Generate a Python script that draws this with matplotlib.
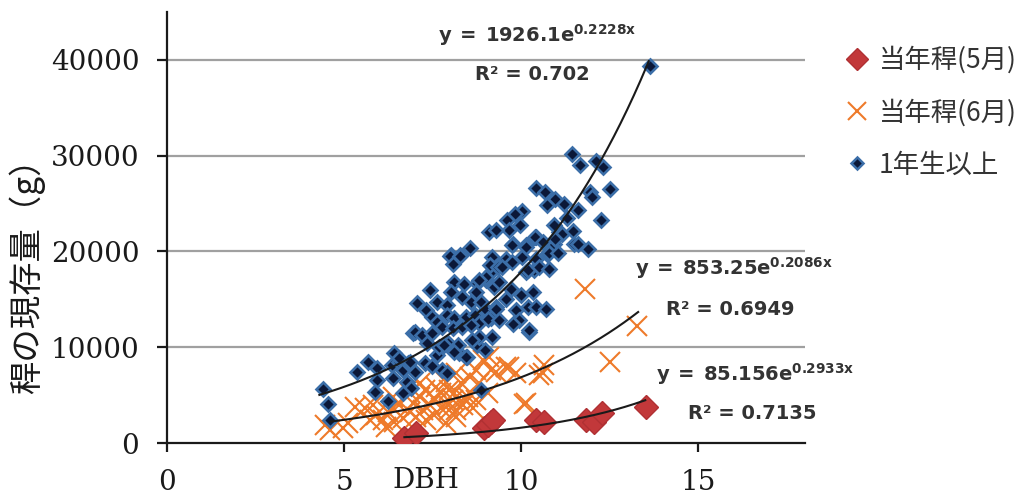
import numpy as np
import matplotlib
matplotlib.use("Agg")
import matplotlib.pyplot as plt
from matplotlib.lines import Line2D

plt.rcParams['mathtext.fontset'] = 'dejavusans'

# 当年稈(5月)
dbh_may = [6.70, 7.03, 8.96, 9.15, 9.05, 9.19, 10.41, 10.65, 11.82, 12.06, 12.29, 13.51]
bio_may = [490, 1010, 1530, 2220, 1900, 2400, 2400, 2220, 2400, 2220, 3090, 3780]

# 当年稈(6月)
dbh_jun = [4.45, 4.97, 5.11, 5.30, 5.58, 5.81, 5.91, 6.09, 6.23, 6.37, 6.56, 6.42,
           6.66, 6.85, 6.94, 7.13, 7.27, 7.03, 7.22, 7.41, 7.55, 7.74, 7.60, 7.88,
           7.32, 7.55, 7.74, 7.92, 8.06, 8.16, 8.35, 8.49, 8.30, 8.54, 8.72, 8.91,
           9.10, 9.29, 9.57, 9.85, 8.82, 8.63, 10.13, 10.65, 10.60, 6.19, 4.59, 5.72,
           6.37, 6.85, 7.13, 7.97, 8.16, 9.15, 8.39, 8.11, 7.97, 8.16, 7.88, 9.05,
           8.72, 10.08, 10.51, 11.80, 13.27, 12.51, 9.66]
bio_jun = [1880, 1530, 2050, 3780, 3610, 3960, 2920, 2400, 3260, 3610, 3960, 2220,
           2570, 3260, 4140, 4820, 5520, 2740, 3440, 3960, 4660, 5180, 5870, 6390,
           2400, 2920, 3610, 3960, 4480, 3440, 3960, 4820, 6220, 6910, 7610, 8650,
           8990, 7430, 7950, 7260, 6220, 3610, 4140, 8130, 7260, 1700, 1350, 2400,
           4820, 5180, 6220, 5520, 7260, 7610, 4660, 5180, 3440, 2740, 2050, 5180,
           4480, 4060, 7090, 16120, 12190, 8470, 7950]

# 1年生以上
dbh_old = [4.39, 4.54, 4.59, 5.35, 5.66, 5.92, 5.92, 5.86, 6.23, 6.42, 6.34, 6.56,
           6.37, 6.65, 6.79, 6.99, 6.76, 6.90, 6.65, 7.27, 7.49, 7.75, 7.89, 7.61,
           7.69, 7.92, 8.25, 8.48, 8.20, 8.76, 8.87, 8.82, 6.93, 9.18, 10.23,
           9.10, 8.54, 8.03, 8.28, 9.18, 9.30, 9.15, 7.41, 8.11, 8.37, 8.03, 8.76,
           9.01, 8.73, 9.24, 7.63, 7.89, 8.34, 8.59, 8.87, 9.01, 7.07, 7.32, 7.49,
           7.61, 7.89, 8.11, 8.45, 8.68, 8.82, 9.15, 9.30, 6.99, 7.21, 7.49, 7.77,
           8.06, 8.34, 8.59, 8.62, 7.83, 7.35, 6.56, 6.85, 8.11, 8.45, 8.99,
           9.57, 9.75, 10.03, 10.13, 10.41, 9.76, 10.93, 11.07, 11.49, 10.74, 10.37,
           10.13, 10.32, 9.99, 9.85, 10.18, 10.41, 10.70, 9.94, 10.23, 9.71, 9.38,
           9.57, 9.29, 9.05, 9.38, 9.76,
           11.43, 11.66, 12.10, 12.32, 12.50, 11.94, 12.01, 10.43, 10.68, 10.96,
           10.72, 11.21, 11.61, 12.26, 10.02, 9.83, 9.61, 9.96, 9.66, 9.29, 11.29,
           10.93, 11.16, 11.45, 10.96, 10.39, 10.60, 9.73, 10.13, 11.59, 11.87,
           7.99, 8.27, 8.06, 9.12, 9.33, 9.47, 10.79, 11.05, 10.41, 10.18, 10.51,
           10.79, 9.01, 8.80, 13.63]
bio_old = [5630, 4060, 2400, 7400, 8440, 7810, 6560, 5310, 4380, 9380, 8130, 8440,
           6770, 7610, 8340, 7400, 6360, 5730, 5210, 8340, 8020, 7610, 7290, 9170,
           10000, 10420, 9380, 8960, 10210, 10210, 5520, 11050, 11460, 11050, 11570,
           21990, 20320, 19590, 19590, 19380, 18340, 17820, 15940, 16780, 16570, 15730, 16670,
           16980, 15730, 16260, 14690, 14380, 15210, 14690, 14690, 13860, 14590, 13860, 13130,
           12610, 13340, 13030, 13130, 13340, 12500, 13030, 14170, 11570, 11250, 11460, 12090,
           11980, 12090, 12300, 10730, 10210, 10420, 8860, 8440, 9480, 8960, 9690,
           19240, 18890, 19410, 20630, 21500, 20810, 20810, 22020, 20810, 19770, 18030,
           17850, 15770, 15420, 13860, 14200, 14200, 14030, 12820, 11770, 16120, 16810,
           15080, 14030, 12990, 12820, 12470,
           30190, 29070, 29420, 28860, 26470, 26190, 25660, 26640, 26190, 25500,
           24800, 24980, 24280, 23310, 24210, 23930, 23310, 22720, 22190, 22270, 23520,
           22790, 21850, 22120, 21330, 21500, 20970, 20700, 20450, 20810, 20290,
           19490, 19490, 18720, 18550, 18370, 18370, 19870, 19830, 19250, 18030, 18370,
           18200, 17330, 17060, 39390]

# 近似曲線 (指数): a, b, x開始, x終了
fit_old = (1926.1, 0.2228, 4.3, 13.6)
fit_jun = (853.25, 0.2086, 4.6, 13.3)
fit_may = (85.156, 0.2933, 6.7, 13.5)

fig = plt.figure(figsize=(10.25, 5), dpi=100)
ax = fig.add_axes([0.163, 0.114, 0.622, 0.862])

ax.plot(dbh_old, bio_old, 'D', ms=7, mfc='#0b1838', mec='#3b6ea8', mew=1.9,
        linestyle='none', zorder=3)
ax.plot(dbh_jun, bio_jun, 'x', ms=14, mew=1.5, color='#ee7a2a', linestyle='none', zorder=2)
ax.plot(dbh_may, bio_may, 'D', ms=12, mfc='#c2383a', mec='#b03033', mew=1,
        linestyle='none', zorder=4)

for a, b, x0, x1 in [fit_old, fit_jun, fit_may]:
    xx = np.linspace(x0, x1, 200)
    ax.plot(xx, a * np.exp(b * xx), color='#1a1a1a', lw=1.5, zorder=5)

ax.set_xlim(0, 18)
ax.set_ylim(0, 45000)
ax.set_xticks([0, 5, 10, 15])
ax.set_yticks([0, 10000, 20000, 30000, 40000])
for t in [10000, 20000, 30000, 40000]:
    ax.axhline(t, color='#a0a0a0', lw=1.6, zorder=1)

for s in ['top', 'right']:
    ax.spines[s].set_visible(False)
for s in ['left', 'bottom']:
    ax.spines[s].set_linewidth(1.6)
    ax.spines[s].set_color('#1a1a1a')

ax.tick_params(axis='y', direction='out', length=7, width=1.6, pad=13,
               labelsize=20, colors='#1a1a1a')
ax.tick_params(axis='x', direction='out', length=6.5, width=1.6, pad=12,
               labelsize=20, colors='#1a1a1a')
for lab in ax.get_xticklabels() + ax.get_yticklabels():
    lab.set_family('DejaVu Serif')

ax.text(7.3, -3900, 'DBH', family='DejaVu Serif', fontsize=20, color='#1a1a1a',
        ha='center', va='center')

fig.text(0.026, 0.465, '稈の現存量（g）', rotation=90, fontsize=24,
         family=['Noto Sans CJK JP', 'DejaVu Sans'], ha='center', va='center',
         color='#1a1a1a')

eq_kw = dict(fontsize=14, color='#333333', ha='left', va='center')
ax.text(7.65, 42600, r'$\mathbf{y\;=\;1926.1e^{0.2228x}}$', **eq_kw)
ax.text(8.7, 38500, 'R² = 0.702', fontweight='bold', **eq_kw)
ax.text(13.2, 18300, r'$\mathbf{y\;=\;853.25e^{0.2086x}}$', **eq_kw)
ax.text(14.1, 13900, 'R² = 0.6949', fontweight='bold', **eq_kw)
ax.text(13.8, 7200, r'$\mathbf{y\;=\;85.156e^{0.2933x}}$', **eq_kw)
ax.text(14.7, 3050, 'R² = 0.7135', fontweight='bold', **eq_kw)

handles = [
    Line2D([], [], marker='D', ms=11, mfc='#c2383a', mec='#b03033', linestyle='none'),
    Line2D([], [], marker='x', ms=13, mew=1.5, color='#ee7a2a', linestyle='none'),
    Line2D([], [], marker='D', ms=6.5, mfc='#0b1838', mec='#3b6ea8', mew=1.8, linestyle='none'),
]
labels = ['当年稈(5月)', '当年稈(6月)', '1年生以上']
leg = fig.legend(handles, labels, loc='upper left', bbox_to_anchor=(0.803, 0.955),
                 frameon=False, handlelength=0.8, handletextpad=0.4, labelspacing=0.95,
                 prop={'family': ['Noto Sans CJK JP', 'DejaVu Sans'], 'size': 19})
for t in leg.get_texts():
    t.set_color('#333333')

fig.savefig('out.png', dpi=100, facecolor='white')
